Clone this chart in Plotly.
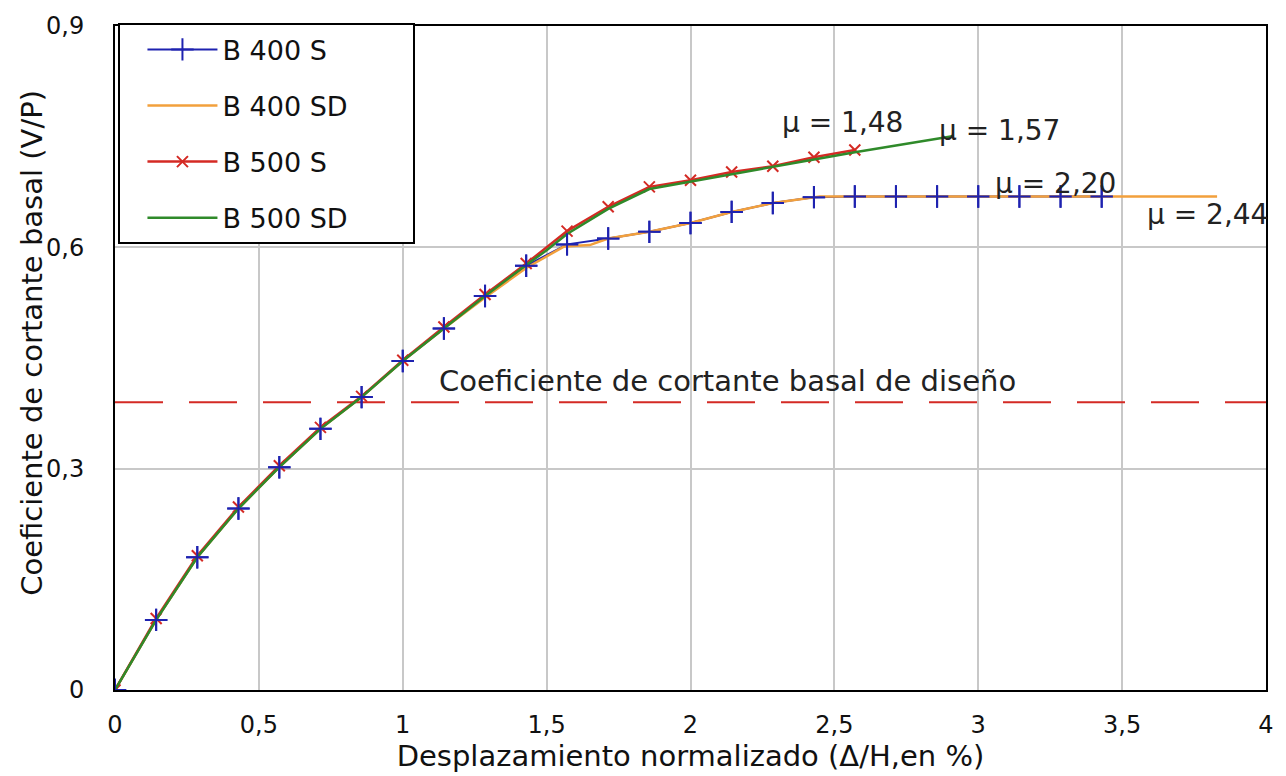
import plotly.graph_objects as go

# ---------------- data ----------------
x_b400s = [0, 0.143, 0.286, 0.429, 0.571, 0.714, 0.857, 1.0, 1.143, 1.286, 1.429,
           1.571, 1.714, 1.857, 2.0, 2.143, 2.286, 2.429, 2.571, 2.714, 2.857,
           3.0, 3.143, 3.286, 3.429]
y_b400s = [0, 0.095, 0.18, 0.246, 0.302, 0.354, 0.397, 0.446, 0.49, 0.534, 0.575,
           0.604, 0.612, 0.621, 0.633, 0.648, 0.66, 0.668, 0.669, 0.669, 0.669,
           0.669, 0.669, 0.669, 0.669]

x_b400sd = [0, 0.143, 0.286, 0.429, 0.571, 0.714, 0.857, 1.0, 1.143, 1.286, 1.429,
            1.5, 1.56, 1.65, 1.714, 1.857, 2.0, 2.143, 2.286, 2.45, 3.83]
y_b400sd = [0, 0.095, 0.18, 0.246, 0.302, 0.354, 0.397, 0.446, 0.49, 0.532, 0.572,
            0.588, 0.601, 0.603, 0.612, 0.621, 0.633, 0.648, 0.66, 0.669, 0.669]

x_b500s = [0, 0.143, 0.286, 0.429, 0.571, 0.714, 0.857, 1.0, 1.143, 1.286, 1.429,
           1.571, 1.714, 1.857, 2.0, 2.143, 2.286, 2.429, 2.571]
y_b500s = [0, 0.097, 0.182, 0.248, 0.304, 0.356, 0.398, 0.447, 0.492, 0.536, 0.578,
           0.622, 0.655, 0.682, 0.691, 0.702, 0.71, 0.722, 0.732]

x_b500sd = [0, 0.143, 0.286, 0.429, 0.571, 0.714, 0.857, 1.0, 1.143, 1.286, 1.429,
            1.5, 1.571, 1.714, 1.857, 2.0, 2.143, 2.286, 2.429, 2.571, 2.714,
            2.857, 2.915]
y_b500sd = [0, 0.095, 0.18, 0.246, 0.302, 0.354, 0.397, 0.446, 0.49, 0.534, 0.576,
            0.596, 0.618, 0.652, 0.679, 0.689, 0.699, 0.708, 0.719, 0.729, 0.738,
            0.747, 0.751]

series_names = ["B 400 S", "B 400 SD", "B 500 S", "B 500 SD"]

design_coef = 0.39
design_label = "Coeficiente de cortante basal de diseño"

mu_labels = ["μ = 1,48", "μ = 1,57", "μ = 2,20", "μ = 2,44"]
mu_x = [2.31, 2.855, 3.05, 3.58]
mu_y = [0.769, 0.759, 0.686, 0.644]

x_ticks = [0, 0.5, 1, 1.5, 2, 2.5, 3, 3.5, 4]
y_ticks = [0, 0.3, 0.6, 0.9]

x_title = "Desplazamiento normalizado (Δ/H,en %)"
y_title = "Coeficiente de cortante basal (V/P)"

# ---------------- styles ----------------
BLUE = "#1e22b0"
ORANGE = "#f2a03c"
RED = "#d42a24"
GREEN = "#2f8a2a"
FONT = "DejaVu Sans, Verdana, sans-serif"
PAD = "\u00a0" * 7  # legend box width padding (invisible)

fig = go.Figure()

# design line
fig.add_trace(go.Scatter(
    x=[x_ticks[0], x_ticks[-1]], y=[design_coef, design_coef], mode="lines",
    line=dict(color=RED, width=2, dash="48px,26px"),
    showlegend=False, hoverinfo="skip"))

fig.add_trace(go.Scatter(
    x=x_b400s, y=y_b400s, mode="lines+markers", name=series_names[0],
    legendgroup="a",
    line=dict(color=BLUE, width=2),
    marker=dict(symbol="cross-thin", size=16, line=dict(color=BLUE, width=2))))

fig.add_trace(go.Scatter(
    x=x_b400sd, y=y_b400sd, mode="lines", name=series_names[1] + PAD,
    legendgroup="b",
    line=dict(color=ORANGE, width=2.5)))

fig.add_trace(go.Scatter(
    x=x_b500s, y=y_b500s, mode="lines+markers", name=series_names[2],
    legendgroup="c",
    line=dict(color=RED, width=2.5),
    marker=dict(symbol="x-thin", size=11, line=dict(color=RED, width=2))))

fig.add_trace(go.Scatter(
    x=x_b500sd, y=y_b500sd, mode="lines", name=series_names[3] + PAD,
    legendgroup="d",
    line=dict(color=GREEN, width=2.5)))

# blue markers on top of the orange line
fig.add_trace(go.Scatter(
    x=x_b400s, y=y_b400s, mode="markers", showlegend=False, hoverinfo="skip",
    marker=dict(symbol="cross-thin", size=16, line=dict(color=BLUE, width=2))))

annotations = [dict(x=1.12, y=design_coef + 0.029, text=design_label, showarrow=False,
                    xanchor="left", yanchor="middle",
                    font=dict(family=FONT, size=29, color="#222"))]
for t, xx, yy in zip(mu_labels, mu_x, mu_y):
    annotations.append(dict(x=xx, y=yy, text=t, showarrow=False, xanchor="left",
                            yanchor="middle", font=dict(family=FONT, size=28, color="#222")))
# y-axis title placed as rotated text in the left margin
annotations.append(dict(xref="paper", yref="paper", x=-0.072, y=0.523, text=y_title,
                        textangle=-90, showarrow=False, xanchor="center", yanchor="middle",
                        font=dict(family=FONT, size=29, color="#111")))

fig.update_layout(
    width=1286, height=776,
    margin=dict(l=115, r=16, t=23, b=86),
    paper_bgcolor="white", plot_bgcolor="white",
    separators=",.",
    showlegend=True,
    legend=dict(x=0.003, y=1.004, xanchor="left", yanchor="top",
                bgcolor="white", bordercolor="black", borderwidth=2,
                font=dict(family=FONT, size=27, color="#111"),
                traceorder="grouped", tracegroupgap=18, itemwidth=70,
                indentation=22),
    annotations=annotations,
)
fig.update_xaxes(
    range=[0, 4], tickvals=x_ticks, showgrid=True, gridcolor="#c8c8c8", gridwidth=2,
    showline=True, linecolor="black", linewidth=2, mirror=True, zeroline=False,
    ticks="", ticklabelstandoff=12,
    tickfont=dict(family=FONT, size=24, color="#111"),
    title=dict(text=x_title, standoff=2,
               font=dict(family=FONT, size=29, color="#111")))
fig.update_yaxes(
    range=[0, 0.9], tickvals=y_ticks, showgrid=True, gridcolor="#c8c8c8", gridwidth=2,
    showline=True, linecolor="black", linewidth=2, mirror=True, zeroline=False,
    ticks="", ticklabelstandoff=24,
    tickfont=dict(family=FONT, size=24, color="#111"))

fig.write_html("out.html")
